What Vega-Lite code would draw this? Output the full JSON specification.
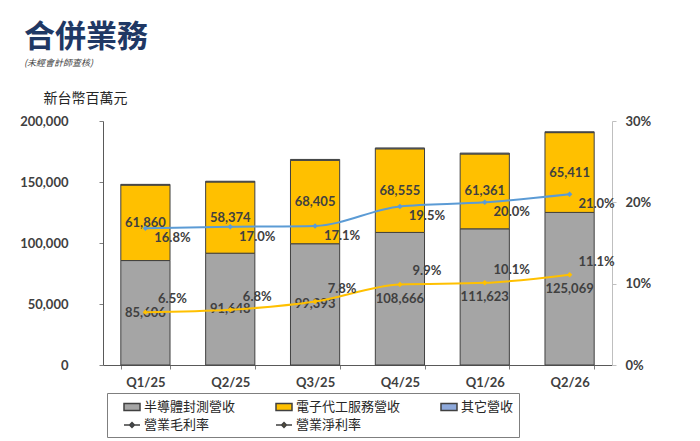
{
  "$schema": "https://vega.github.io/schema/vega-lite/v6.json",
  "autosize": "none",
  "width": 509,
  "height": 244,
  "padding": {"left": 103, "top": 121, "right": 88, "bottom": 76},
  "background": "white",
  "title": {
    "text": "合併業務",
    "subtitle": "(未經會計師查核)",
    "anchor": "start",
    "frame": "group",
    "dx": -79,
    "offset": 22,
    "font": "Noto Sans CJK TC",
    "fontSize": 31,
    "fontWeight": "bold",
    "color": "#1F3864",
    "subtitleFont": "Noto Sans CJK TC",
    "subtitleFontSize": 9,
    "subtitleFontStyle": "italic",
    "subtitleColor": "#404040",
    "subtitlePadding": 5
  },
  "config": {
    "view": {"stroke": null},
    "axis": {"grid": false, "labelFont": "Lato", "labelFontWeight": "bold", "labelFontSize": 13, "labelColor": "#404040", "tickColor": "#7F7F7F", "domainColor": "#7F7F7F", "tickSize": 4}
  },
  "datasets": {
    "rev": [
      {"q": "Q1/25", "series": "半導體封測營收", "value": 85606},
      {"q": "Q1/25", "series": "電子代工服務營收", "value": 61860},
      {"q": "Q1/25", "series": "其它營收", "value": 600},
      {"q": "Q2/25", "series": "半導體封測營收", "value": 91648},
      {"q": "Q2/25", "series": "電子代工服務營收", "value": 58374},
      {"q": "Q2/25", "series": "其它營收", "value": 600},
      {"q": "Q3/25", "series": "半導體封測營收", "value": 99393},
      {"q": "Q3/25", "series": "電子代工服務營收", "value": 68405},
      {"q": "Q3/25", "series": "其它營收", "value": 700},
      {"q": "Q4/25", "series": "半導體封測營收", "value": 108666},
      {"q": "Q4/25", "series": "電子代工服務營收", "value": 68555},
      {"q": "Q4/25", "series": "其它營收", "value": 700},
      {"q": "Q1/26", "series": "半導體封測營收", "value": 111623},
      {"q": "Q1/26", "series": "電子代工服務營收", "value": 61361},
      {"q": "Q1/26", "series": "其它營收", "value": 700},
      {"q": "Q2/26", "series": "半導體封測營收", "value": 125069},
      {"q": "Q2/26", "series": "電子代工服務營收", "value": 65411},
      {"q": "Q2/26", "series": "其它營收", "value": 700}
    ],
    "rate": [
      {"q": "Q1/25", "series": "營業毛利率", "rate": 0.168},
      {"q": "Q2/25", "series": "營業毛利率", "rate": 0.170},
      {"q": "Q3/25", "series": "營業毛利率", "rate": 0.171},
      {"q": "Q4/25", "series": "營業毛利率", "rate": 0.195},
      {"q": "Q1/26", "series": "營業毛利率", "rate": 0.200},
      {"q": "Q2/26", "series": "營業毛利率", "rate": 0.210},
      {"q": "Q1/25", "series": "營業淨利率", "rate": 0.065},
      {"q": "Q2/25", "series": "營業淨利率", "rate": 0.068},
      {"q": "Q3/25", "series": "營業淨利率", "rate": 0.078},
      {"q": "Q4/25", "series": "營業淨利率", "rate": 0.099},
      {"q": "Q1/26", "series": "營業淨利率", "rate": 0.101},
      {"q": "Q2/26", "series": "營業淨利率", "rate": 0.111}
    ]
  },
  "encoding": {
    "x": {
      "field": "q", "type": "ordinal",
      "sort": ["Q1/25", "Q2/25", "Q3/25", "Q4/25", "Q1/26", "Q2/26"],
      "scale": {"paddingInner": 0.42, "paddingOuter": 0.21},
      "axis": {"title": null, "labelAngle": 0, "tickBand": "extent", "labelPadding": 7, "domainColor": "#595959"}
    }
  },
  "layer": [
    {
      "data": {"name": "rev"},
      "layer": [
        {
          "transform": [
            {"calculate": "indexof(['半導體封測營收', '電子代工服務營收', '其它營收'], datum.series)", "as": "ord"}
          ],
          "mark": {"type": "bar", "stroke": "#404040", "strokeWidth": 1},
          "encoding": {
            "y": {
              "field": "value", "type": "quantitative", "aggregate": "sum", "stack": "zero",
              "scale": {"domain": [0, 200000]},
              "axis": {
                "values": [0, 50000, 100000, 150000, 200000], "format": ",.0f",
                "labelPadding": 31, "domainColor": "#595959",
                "title": "新台幣百萬元", "titleAngle": 0, "titleX": -60, "titleY": -23,
                "titleAlign": "left", "titleBaseline": "middle",
                "titleFont": "Noto Sans CJK TC", "titleFontSize": 14, "titleFontWeight": "normal", "titleColor": "#262626"
              }
            },
            "order": {"field": "ord", "type": "quantitative", "sort": "ascending"},
            "color": {
              "field": "series", "type": "nominal",
              "scale": {
                "domain": ["半導體封測營收", "電子代工服務營收", "其它營收", "營業毛利率", "營業淨利率"],
                "range": ["#A5A5A5", "#FFC000", "#8EA9DB", "#5B9BD5", "#FFC000"]
              },
              "legend": {
                "title": null,
                "orient": "none",
                "legendX": 4,
                "legendY": 272,
                "direction": "horizontal",
                "columns": 3,
                "gridAlign": "each",
                "columnPadding": 28,
                "rowPadding": 2,
                "padding": 5,
                "symbolOffset": 11,
                "symbolSize": 256,
                "symbolType": {"expr": "indexof(datum.value, '率') >= 0 ? 'M-1,0H1M0,-0.3L0.3,0L0,0.3L-0.3,0Z' : 'M-1,-0.45H1V0.45H-1Z'"},
                "labelOffset": 3,
                "labelExpr": "datum.value === '其它營收' ? datum.label + '　　　　　' : datum.label",
                "labelFont": "Noto Sans CJK TC",
                "labelFontSize": 13,
                "labelColor": "#262626",
                "labelLimit": 200,
                "strokeColor": "#7F7F7F",
                "fillColor": "white",
                "encode": {
                  "symbols": {
                    "stroke": {"condition": [{"test": "indexof(datum.value, '毛利率') >= 0", "value": "#5B9BD5"}, {"test": "indexof(datum.value, '淨利率') >= 0", "value": "#FFC000"}], "value": "#404040"},
                    "strokeWidth": {"condition": {"test": "indexof(datum.value, '率') >= 0", "value": 1.5}, "value": 1},
                    "opacity": {"value": 1},
                    "fillOpacity": {"value": 1}
                  }
                }
              }
            }
          }
        },
        {
          "transform": [
            {"filter": "datum.series !== '其它營收'"},
            {"stack": "value", "groupby": ["q"], "sort": [{"field": "series", "order": "ascending"}], "as": ["v0", "v1"]},
            {"calculate": "(datum.v0 + datum.v1) / 2", "as": "mid"}
          ],
          "mark": {"type": "text", "font": "Lato", "fontWeight": "bold", "fontSize": 13, "color": "#404040"},
          "encoding": {
            "y": {
              "field": "mid", "type": "quantitative",
              "axis": {
                "values": [0, 50000, 100000, 150000, 200000], "format": ",.0f",
                "labelPadding": 31, "domainColor": "#595959",
                "title": "新台幣百萬元", "titleAngle": 0, "titleX": -60, "titleY": -23,
                "titleAlign": "left", "titleBaseline": "middle",
                "titleFont": "Noto Sans CJK TC", "titleFontSize": 14, "titleFontWeight": "normal", "titleColor": "#262626"
              }
            },
            "text": {"field": "value", "type": "quantitative", "format": ",.0f"}
          }
        }
      ]
    },
    {
      "data": {"name": "rate"},
      "layer": [
        {
          "transform": [{"filter": "datum.series === '營業毛利率'"}],
          "mark": {"type": "line", "interpolate": "monotone", "strokeWidth": 2, "color": "#5B9BD5", "point": {"shape": "diamond", "filled": true, "size": 30, "color": "#5B9BD5"}},
          "encoding": {
            "y": {
              "field": "rate", "type": "quantitative",
              "scale": {"domain": [0, 0.3]},
              "axis": {"orient": "right", "values": [0, 0.1, 0.2, 0.3], "format": ".0%", "title": null, "labelPadding": 9, "domainColor": "#BFBFBF", "tickColor": "#BFBFBF"}
            }
          }
        },
        {
          "transform": [{"filter": "datum.series === '營業淨利率'"}],
          "mark": {"type": "line", "interpolate": "monotone", "strokeWidth": 2, "color": "#FFC000", "point": {"shape": "diamond", "filled": true, "size": 30, "color": "#FFC000"}},
          "encoding": {
            "y": {"field": "rate", "type": "quantitative"}
          }
        },
        {
          "transform": [{"filter": "datum.series === '營業毛利率'"}],
          "mark": {"type": "text", "font": "Lato", "fontWeight": "bold", "fontSize": 13, "color": "#404040", "dx": 27, "dy": 10},
          "encoding": {
            "y": {"field": "rate", "type": "quantitative"},
            "text": {"field": "rate", "type": "quantitative", "format": ".1%"}
          }
        },
        {
          "transform": [{"filter": "datum.series === '營業淨利率'"}],
          "mark": {"type": "text", "font": "Lato", "fontWeight": "bold", "fontSize": 13, "color": "#404040", "dx": 27, "dy": -13},
          "encoding": {
            "y": {"field": "rate", "type": "quantitative"},
            "text": {"field": "rate", "type": "quantitative", "format": ".1%"}
          }
        }
      ]
    }
  ],
  "resolve": {"scale": {"y": "independent"}}
}
